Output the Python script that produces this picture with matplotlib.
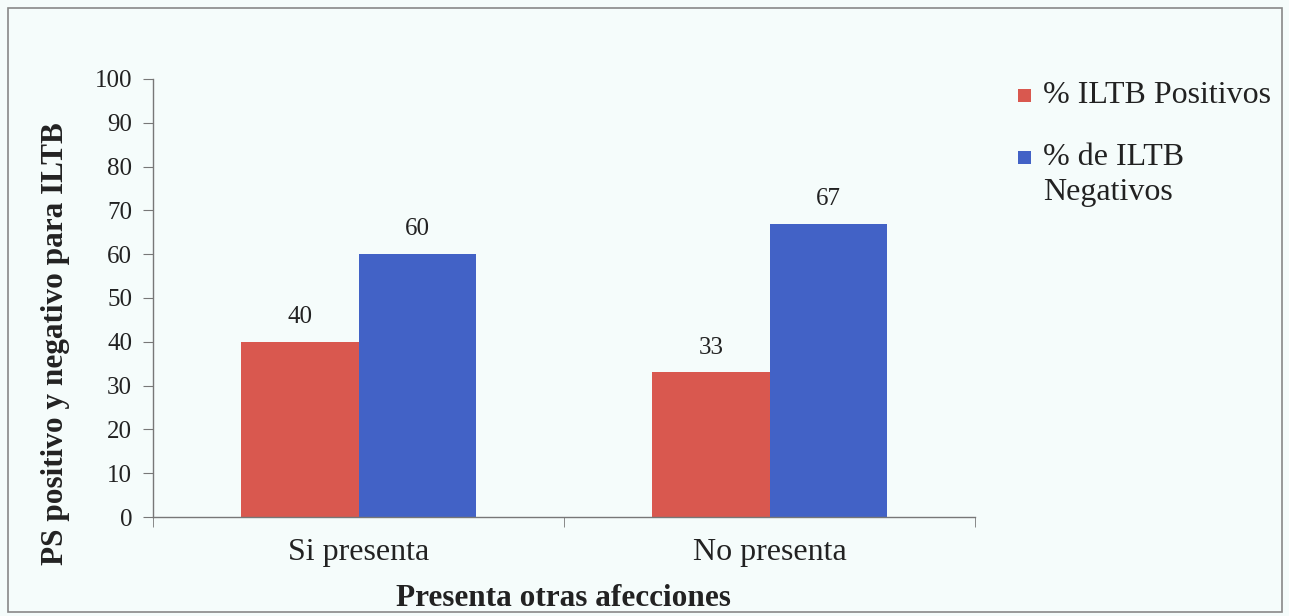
import matplotlib.pyplot as plt
import matplotlib.patches as mpatches
import numpy as np

plt.rcParams['font.family'] = ['Liberation Serif', 'DejaVu Serif']

categories = ['Si presenta', 'No presenta']
positivos = [40, 33]
negativos = [60, 67]
series_names = ['% ILTB Positivos', '% de ILTB\nNegativos']
yticks = [0, 10, 20, 30, 40, 50, 60, 70, 80, 90, 100]

red = '#d9584f'
blue = '#4262c6'
bg = '#f5fcfb'
ink = '#222222'


def main():
    fig = plt.figure(figsize=(12.89, 6.16), dpi=100, facecolor=bg)
    ax = fig.add_axes([0.1187, 0.1607, 0.6377, 0.7111])
    ax.set_facecolor(bg)

    x = np.arange(len(categories))
    w = 1 / 3.5
    b1 = ax.bar(x - w / 2, positivos, w, color=red)
    b2 = ax.bar(x + w / 2, negativos, w, color=blue)

    for bars, vals in ((b1, positivos), (b2, negativos)):
        for rect, v in zip(bars, vals):
            ax.annotate(f'{v}', (rect.get_x() + rect.get_width() / 2, v),
                        xytext=(0, 10), textcoords='offset points',
                        ha='center', va='bottom', fontsize=18, color=ink)

    ax.set_xlim(-0.5, len(categories) - 0.5)
    ax.set_ylim(0, 100)
    ax.set_yticks(yticks)
    ax.set_xticks(x)
    ax.set_xticklabels(categories)
    ax.set_xticks(np.arange(len(categories) + 1) - 0.5, minor=True)
    ax.tick_params(axis='x', which='major', length=0, labelsize=23, pad=15, colors=ink)
    ax.tick_params(axis='x', which='minor', length=7, color='#777777', direction='out')
    ax.tick_params(axis='y', length=7, color='#777777', labelsize=18, pad=8, labelcolor=ink)

    for s in ('top', 'right'):
        ax.spines[s].set_visible(False)
    for s in ('left', 'bottom'):
        ax.spines[s].set_color('#777777')
        ax.spines[s].set_linewidth(1)

    fig.text(0.4375, 1 - 598 / 616, 'Presenta otras afecciones', ha='center', va='center',
             fontsize=22.5, fontweight='bold', color=ink)
    fig.text(56 / 1289, 1 - 344 / 616, 'PS positivo y negativo para ILTB', rotation=90,
             ha='center', va='center', fontsize=22.5, fontweight='bold', color=ink)

    # legend: square aligned with the first line of each label
    legend_rows = [(series_names[0], red, 95), (series_names[1], blue, 157)]
    for label, color, ymid in legend_rows:
        fig.patches.append(mpatches.Rectangle((1018 / 1289, 1 - (ymid + 7) / 616), 13 / 1289, 13 / 616,
                                              transform=fig.transFigure, facecolor=color,
                                              edgecolor='none'))
        fig.text(1043 / 1289, 1 - (ymid - 14) / 616, label, ha='left', va='top',
                 fontsize=23, color=ink, linespacing=1.25)

    # outer frame
    fig.patches.append(mpatches.Rectangle((8 / 1289, 4 / 616), 1274 / 1289, 604 / 616,
                                          transform=fig.transFigure, fill=False,
                                          edgecolor='#888888', linewidth=1.2))

    plt.savefig('out.png', dpi=100, facecolor=bg)


if __name__ == "__main__":
    main()
